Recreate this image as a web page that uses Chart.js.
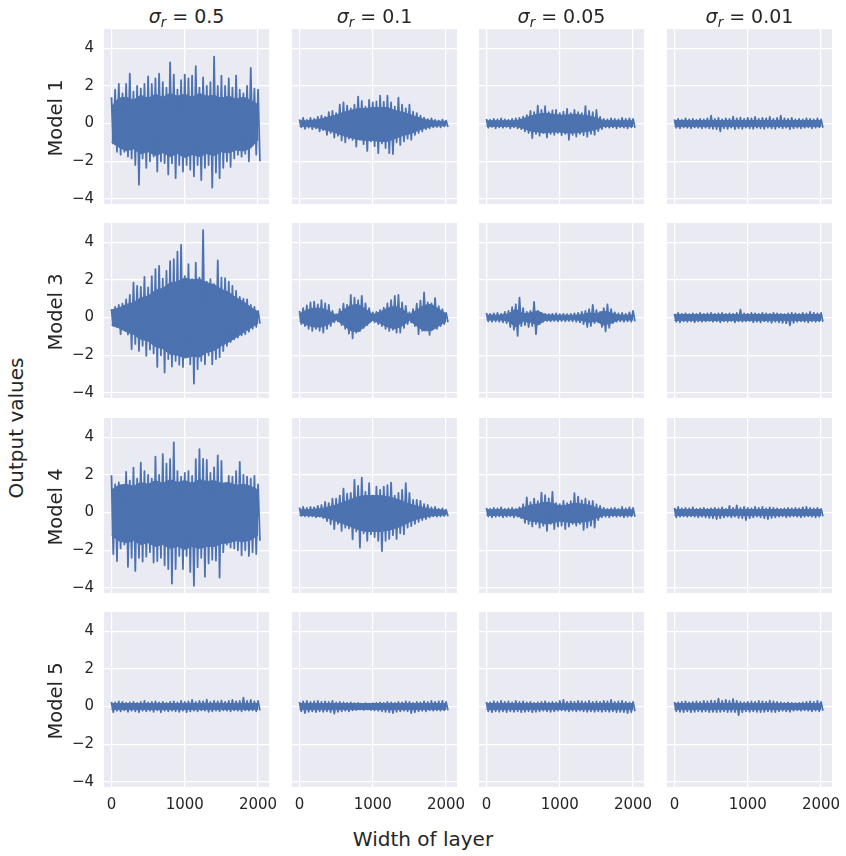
<!DOCTYPE html>
<html>
<head>
<meta charset="utf-8">
<script src="https://cdn.jsdelivr.net/npm/chart.js@4.4.1/dist/chart.umd.min.js"></script>
<style>
  html, body { margin: 0; padding: 0; background: #ffffff; }
  #fig { position: relative; width: 846px; height: 856px; overflow: hidden;
         font-family: 'DejaVu Sans', sans-serif; color: #262626; }
  #fig canvas { position: absolute; }
  .lbl { position: absolute; white-space: nowrap; line-height: 1; }
  .col-title { font-size: 19px; text-align: center; width: 165px; top: 7px; }
  .col-title i { font-style: italic; }
  .col-title .sub { font-style: italic; font-size: 70%; position: relative; top: 0.28em; }
  .vert { transform: translate(-50%, -50%) rotate(-90deg); }
</style>
</head>
<body>
<div id="fig"></div>
<script>
// sampling positions: each window of the trace contributes a peak and a trough
const peakWidths = [0, 50, 100, 150, 200, 250, 300, 350, 400, 450, 500, 550, 600, 650, 700, 750, 800, 850, 900, 950,
  1000, 1050, 1100, 1150, 1200, 1250, 1300, 1350, 1400, 1450, 1500, 1550, 1600, 1650, 1700, 1750, 1800, 1850, 1900, 1950, 2000];
const troughWidths = [25, 75, 125, 175, 225, 275, 325, 375, 425, 475, 525, 575, 625, 675, 725, 775, 825, 875, 925, 975,
  1025, 1075, 1125, 1175, 1225, 1275, 1325, 1375, 1425, 1475, 1525, 1575, 1625, 1675, 1725, 1775, 1825, 1875, 1925, 1975, 2025];
// positions of the solid inner band
const coreWidths = [0, 100, 200, 300, 400, 500, 600, 700, 800, 900, 1000, 1100, 1200, 1300, 1400, 1500, 1600, 1700, 1800, 1900, 2000];

const modelLabels = ['Model 1', 'Model 3', 'Model 4', 'Model 5'];
const sigmaLabels = ['0.5', '0.1', '0.05', '0.01'];
const xTicks = [0, 1000, 2000];
const yTicks = [-4, -2, 0, 2, 4];

// Model 1 -- spikes
const m1_s050_up = [1.4, 1.8, 2.1, 1.6, 2.1, 2.65, 1.7, 2.0, 1.85, 2.1, 2.5, 2.1, 2.4, 2.65, 2.2, 1.9, 3.25, 2.6, 1.8, 2.3, 2.6,
  2.4, 2.55, 3.05, 1.9, 2.45, 2.0, 2.2, 3.55, 2.0, 2.55, 2.0, 2.4, 1.9, 2.55, 1.8, 1.6, 2.0, 2.95, 1.85, 1.8];
const m1_s050_lo = [-1.05, -1.5, -1.65, -1.5, -1.75, -1.85, -2.2, -3.25, -1.85, -2.35, -2.0, -1.75, -2.55, -2.0, -2.1, -2.7, -2.1,
  -2.9, -2.2, -2.55, -2.2, -2.45, -2.8, -2.2, -3.0, -2.35, -2.2, -3.4, -2.6, -2.9, -2.35, -2.0, -2.3, -1.85, -1.65, -1.75, -1.6,
  -2.0, -1.15, -1.65, -2.0];
const m1_s010_up = [0.22, 0.3, 0.2, 0.3, 0.25, 0.35, 0.42, 0.35, 0.6, 0.67, 0.55, 1.0, 1.13, 0.95, 0.8, 1.0, 1.43, 1.2, 0.9, 1.25,
  1.13, 1.17, 1.48, 1.15, 1.48, 1.13, 0.9, 1.38, 1.0, 0.8, 1.0, 0.63, 0.55, 0.42, 0.32, 0.23, 0.28, 0.2, 0.16, 0.21, 0.16];
const m1_s010_lo = [-0.2, -0.28, -0.22, -0.3, -0.25, -0.42, -0.35, -0.6, -0.5, -0.75, -0.65, -0.9, -1.0, -0.8, -0.87, -1.22, -0.85,
  -1.1, -1.45, -0.95, -1.2, -1.57, -1.05, -1.3, -1.57, -1.62, -1.0, -1.13, -0.95, -0.8, -0.86, -0.6, -0.5, -0.42, -0.3, -0.25,
  -0.2, -0.18, -0.2, -0.15, -0.18];
const m1_s005_up = [0.25, 0.2, 0.25, 0.22, 0.27, 0.22, 0.2, 0.25, 0.27, 0.3, 0.37, 0.45, 0.67, 0.6, 0.95, 0.72, 0.92, 0.6, 0.7, 0.72,
  0.55, 0.63, 0.78, 0.55, 0.72, 0.6, 0.55, 0.93, 0.67, 0.6, 0.72, 0.35, 0.25, 0.22, 0.28, 0.25, 0.22, 0.3, 0.25, 0.28, 0.25];
const m1_s005_lo = [-0.22, -0.18, -0.25, -0.2, -0.22, -0.18, -0.25, -0.2, -0.25, -0.3, -0.42, -0.5, -0.78, -0.55, -0.65, -0.5, -0.74,
  -0.55, -0.6, -0.5, -0.62, -0.55, -0.86, -0.6, -0.69, -0.55, -0.62, -0.7, -0.55, -0.6, -0.4, -0.3, -0.2, -0.22, -0.2, -0.25,
  -0.2, -0.22, -0.25, -0.2, -0.22];
const m1_s001_up = [0.22, 0.25, 0.2, 0.27, 0.22, 0.25, 0.2, 0.25, 0.22, 0.28, 0.42, 0.25, 0.3, 0.22, 0.28, 0.25, 0.37, 0.28, 0.32,
  0.25, 0.3, 0.28, 0.35, 0.25, 0.3, 0.28, 0.35, 0.25, 0.3, 0.42, 0.28, 0.25, 0.3, 0.22, 0.25, 0.22, 0.28, 0.25, 0.22, 0.27, 0.22];
const m1_s001_lo = [-0.22, -0.25, -0.2, -0.22, -0.25, -0.2, -0.22, -0.25, -0.22, -0.25, -0.28, -0.3, -0.42, -0.25, -0.28, -0.22,
  -0.3, -0.25, -0.28, -0.22, -0.25, -0.28, -0.22, -0.25, -0.28, -0.22, -0.25, -0.28, -0.22, -0.25, -0.22, -0.3, -0.25, -0.22,
  -0.25, -0.22, -0.2, -0.25, -0.22, -0.2, -0.22];

// Model 3 -- spikes
const m3_s050_up = [0.45, 0.57, 0.67, 0.74, 0.97, 1.2, 1.86, 1.68, 1.63, 2.16, 1.6, 2.2, 2.57, 2.74, 2.07, 2.48, 3.0, 3.1, 3.5,
  3.86, 2.2, 2.83, 2.04, 2.92, 2.12, 4.64, 1.9, 2.04, 1.77, 3.04, 2.12, 2.09, 1.9, 1.68, 1.42, 1.1, 1.0, 0.97, 0.67, 0.57, 0.35];
const m3_s050_lo = [-0.44, -0.5, -0.88, -0.62, -0.9, -1.68, -1.4, -1.77, -1.5, -2.03, -1.7, -1.9, -2.62, -2.0, -2.92, -2.2, -2.6,
  -2.3, -2.5, -2.62, -2.1, -2.48, -3.5, -2.74, -2.3, -2.48, -2.0, -2.48, -2.2, -2.1, -1.77, -1.5, -1.3, -1.15, -1.05, -0.95,
  -0.88, -0.75, -0.6, -0.5, -0.32];
const m3_s010_up = [0.35, 0.5, 0.65, 0.8, 0.85, 0.7, 0.92, 0.75, 0.67, 0.35, 0.18, 0.45, 0.74, 0.67, 1.2, 1.06, 0.92, 1.15, 0.75,
  0.5, 0.27, 0.3, 0.4, 0.53, 0.75, 0.92, 1.15, 1.2, 0.8, 0.62, 0.27, 0.45, 0.74, 0.9, 1.33, 0.8, 0.75, 1.03, 0.6, 0.44, 0.25];
const m3_s010_lo = [-0.35, -0.45, -0.6, -0.71, -0.6, -0.7, -0.8, -0.6, -0.45, -0.25, -0.2, -0.4, -0.6, -0.85, -1.1, -0.8, -0.72,
  -0.55, -0.4, -0.18, -0.25, -0.35, -0.45, -0.6, -0.71, -0.65, -0.8, -0.8, -0.55, -0.35, -0.25, -0.45, -0.88, -0.7, -0.6, -0.92,
  -0.55, -0.6, -0.45, -0.35, -0.25];
const m3_s005_up = [0.25, 0.2, 0.22, 0.25, 0.2, 0.3, 0.35, 0.55, 0.7, 1.06, 0.5, 0.3, 0.35, 0.83, 0.35, 0.25, 0.2, 0.18, 0.2, 0.22,
  0.18, 0.2, 0.18, 0.2, 0.22, 0.25, 0.3, 0.35, 0.45, 0.67, 0.4, 0.3, 0.5, 0.7, 0.45, 0.28, 0.22, 0.25, 0.2, 0.28, 0.35];
const m3_s005_lo = [-0.2, -0.22, -0.2, -0.22, -0.25, -0.3, -0.5, -0.65, -0.97, -0.45, -0.4, -0.5, -0.45, -0.88, -0.35, -0.22,
  -0.18, -0.2, -0.18, -0.2, -0.18, -0.2, -0.18, -0.2, -0.22, -0.25, -0.35, -0.5, -0.45, -0.3, -0.25, -0.5, -0.74, -0.55, -0.3,
  -0.22, -0.2, -0.22, -0.2, -0.22, -0.2];
const m3_s001_up = [0.2, 0.25, 0.2, 0.22, 0.18, 0.22, 0.2, 0.25, 0.2, 0.22, 0.25, 0.2, 0.22, 0.25, 0.2, 0.22, 0.2, 0.25, 0.42, 0.22,
  0.2, 0.25, 0.22, 0.2, 0.25, 0.22, 0.2, 0.25, 0.22, 0.2, 0.18, 0.22, 0.25, 0.22, 0.2, 0.25, 0.22, 0.3, 0.25, 0.22, 0.25];
const m3_s001_lo = [-0.22, -0.25, -0.2, -0.22, -0.2, -0.25, -0.2, -0.22, -0.2, -0.18, -0.22, -0.2, -0.25, -0.2, -0.22, -0.18,
  -0.25, -0.2, -0.22, -0.2, -0.18, -0.25, -0.22, -0.25, -0.2, -0.22, -0.28, -0.22, -0.25, -0.28, -0.3, -0.42, -0.28, -0.22, -0.2,
  -0.22, -0.25, -0.2, -0.22, -0.2, -0.22];

// Model 4 -- spikes
const m4_s050_up = [1.98, 1.5, 1.6, 1.3, 2.16, 1.7, 2.39, 1.8, 2.65, 2.2, 2.0, 1.8, 2.97, 2.0, 3.1, 2.6, 2.83, 3.72, 2.2, 1.9, 2.1,
  2.2, 1.95, 2.83, 3.36, 2.85, 2.8, 2.1, 2.4, 3.04, 2.74, 1.06, 1.95, 1.9, 2.2, 2.69, 2.0, 1.9, 1.8, 1.95, 1.5];
const m4_s050_lo = [-2.2, -2.57, -1.9, -1.7, -2.88, -2.4, -3.1, -2.4, -2.6, -2.34, -2.1, -2.65, -2.57, -2.4, -2.8, -3.0, -3.77,
  -3.0, -2.3, -3.0, -2.3, -3.15, -3.89, -2.9, -2.4, -3.4, -2.7, -2.5, -2.55, -3.45, -2.1, -1.7, -1.85, -1.9, -2.0, -2.27, -2.0,
  -2.3, -2.1, -2.2, -1.5];
const m4_s010_up = [0.27, 0.3, 0.25, 0.3, 0.28, 0.35, 0.4, 0.57, 0.5, 0.74, 0.74, 0.9, 1.27, 1.0, 1.05, 1.73, 1.42, 1.86, 1.1, 1.56,
  0.9, 1.38, 1.2, 1.38, 1.45, 1.59, 0.9, 1.05, 1.2, 1.56, 1.05, 0.67, 0.67, 0.62, 0.45, 0.4, 0.27, 0.3, 0.2, 0.22, 0.15];
const m4_s010_lo = [-0.18, -0.2, -0.22, -0.2, -0.25, -0.22, -0.3, -0.45, -0.62, -0.88, -0.6, -0.97, -0.8, -0.85, -1.42, -1.0,
  -1.86, -1.1, -1.5, -1.15, -1.3, -1.5, -2.04, -1.5, -1.4, -1.2, -1.4, -1.1, -1.15, -0.8, -0.72, -0.6, -0.5, -0.4, -0.35, -0.25,
  -0.2, -0.22, -0.2, -0.18, -0.2];
const m4_s005_up = [0.25, 0.2, 0.25, 0.22, 0.28, 0.2, 0.22, 0.25, 0.2, 0.28, 0.44, 0.8, 0.55, 0.74, 0.6, 1.06, 0.92, 0.75, 1.1, 0.5,
  0.45, 0.62, 0.5, 0.6, 1.03, 0.85, 0.65, 0.74, 0.6, 0.62, 0.44, 0.35, 0.25, 0.2, 0.22, 0.25, 0.2, 0.3, 0.22, 0.28, 0.25];
const m4_s005_lo = [-0.2, -0.25, -0.22, -0.2, -0.25, -0.22, -0.2, -0.25, -0.22, -0.3, -0.55, -0.6, -0.74, -0.6, -0.8, -0.7, -0.97,
  -0.6, -0.88, -0.75, -0.7, -0.88, -0.75, -0.6, -0.7, -0.6, -0.92, -0.8, -0.7, -0.8, -0.4, -0.25, -0.22, -0.25, -0.2, -0.22, -0.2,
  -0.25, -0.22, -0.2, -0.22];
const m4_s001_up = [0.25, 0.3, 0.22, 0.25, 0.22, 0.28, 0.2, 0.22, 0.25, 0.2, 0.22, 0.25, 0.22, 0.28, 0.2, 0.35, 0.25, 0.38, 0.25,
  0.3, 0.25, 0.22, 0.3, 0.25, 0.3, 0.22, 0.28, 0.25, 0.22, 0.2, 0.22, 0.25, 0.22, 0.25, 0.22, 0.28, 0.3, 0.25, 0.22, 0.25, 0.2];
const m4_s001_lo = [-0.25, -0.22, -0.2, -0.22, -0.2, -0.22, -0.25, -0.22, -0.25, -0.28, -0.3, -0.35, -0.3, -0.25, -0.22, -0.25,
  -0.22, -0.28, -0.3, -0.4, -0.3, -0.25, -0.22, -0.25, -0.3, -0.35, -0.28, -0.25, -0.22, -0.2, -0.25, -0.22, -0.2, -0.22, -0.25,
  -0.22, -0.2, -0.22, -0.25, -0.22, -0.2];

// Model 5 -- spikes
const m5_s050_up = [0.25, 0.22, 0.28, 0.25, 0.2, 0.22, 0.25, 0.2, 0.25, 0.3, 0.22, 0.25, 0.28, 0.22, 0.25, 0.2, 0.25, 0.28, 0.22,
  0.3, 0.25, 0.28, 0.35, 0.25, 0.3, 0.28, 0.37, 0.25, 0.3, 0.28, 0.32, 0.25, 0.3, 0.35, 0.28, 0.3, 0.47, 0.3, 0.35, 0.28, 0.3];
const m5_s050_lo = [-0.3, -0.22, -0.25, -0.2, -0.28, -0.22, -0.25, -0.3, -0.22, -0.25, -0.22, -0.28, -0.2, -0.3, -0.22, -0.25,
  -0.22, -0.25, -0.28, -0.22, -0.3, -0.25, -0.22, -0.25, -0.2, -0.22, -0.28, -0.25, -0.22, -0.25, -0.2, -0.22, -0.25, -0.2, -0.22,
  -0.25, -0.2, -0.22, -0.2, -0.25, -0.2];
const m5_s010_up = [0.25, 0.28, 0.3, 0.25, 0.28, 0.3, 0.25, 0.28, 0.25, 0.3, 0.22, 0.25, 0.22, 0.2, 0.22, 0.18, 0.2, 0.15, 0.18,
  0.15, 0.18, 0.2, 0.22, 0.2, 0.25, 0.22, 0.2, 0.25, 0.22, 0.28, 0.25, 0.2, 0.25, 0.22, 0.28, 0.25, 0.3, 0.25, 0.28, 0.3, 0.25];
const m5_s010_lo = [-0.25, -0.35, -0.28, -0.25, -0.3, -0.25, -0.28, -0.25, -0.3, -0.38, -0.28, -0.25, -0.22, -0.25, -0.2, -0.18,
  -0.15, -0.18, -0.15, -0.18, -0.2, -0.22, -0.25, -0.28, -0.3, -0.35, -0.28, -0.25, -0.22, -0.25, -0.35, -0.3, -0.25, -0.22,
  -0.25, -0.2, -0.22, -0.2, -0.22, -0.2, -0.2];
const m5_s005_up = [0.25, 0.22, 0.28, 0.25, 0.3, 0.25, 0.28, 0.22, 0.3, 0.25, 0.28, 0.22, 0.25, 0.2, 0.22, 0.25, 0.28, 0.22, 0.25,
  0.22, 0.3, 0.35, 0.25, 0.28, 0.25, 0.3, 0.28, 0.25, 0.3, 0.25, 0.28, 0.25, 0.3, 0.28, 0.35, 0.25, 0.28, 0.3, 0.25, 0.22, 0.25];
const m5_s005_lo = [-0.25, -0.3, -0.25, -0.28, -0.25, -0.3, -0.25, -0.28, -0.25, -0.3, -0.28, -0.25, -0.3, -0.28, -0.25, -0.22,
  -0.25, -0.28, -0.25, -0.22, -0.2, -0.22, -0.25, -0.22, -0.25, -0.22, -0.25, -0.28, -0.25, -0.28, -0.25, -0.28, -0.25, -0.28,
  -0.25, -0.3, -0.28, -0.3, -0.35, -0.3, -0.25];
const m5_s001_up = [0.25, 0.22, 0.25, 0.28, 0.22, 0.25, 0.28, 0.25, 0.3, 0.28, 0.32, 0.3, 0.42, 0.3, 0.35, 0.3, 0.4, 0.3, 0.25,
  0.22, 0.25, 0.28, 0.25, 0.3, 0.28, 0.25, 0.32, 0.28, 0.25, 0.22, 0.2, 0.22, 0.2, 0.18, 0.2, 0.22, 0.25, 0.28, 0.25, 0.3, 0.25];
const m5_s001_lo = [-0.25, -0.28, -0.3, -0.25, -0.3, -0.28, -0.25, -0.28, -0.25, -0.3, -0.28, -0.3, -0.28, -0.25, -0.3, -0.28,
  -0.3, -0.45, -0.3, -0.25, -0.28, -0.25, -0.28, -0.3, -0.28, -0.25, -0.28, -0.3, -0.25, -0.22, -0.25, -0.28, -0.22, -0.2, -0.22,
  -0.2, -0.22, -0.25, -0.22, -0.25, -0.22];

// solid inner band of each trace (read at coreWidths)
const m1_s050_coreUp = [0.9, 1.35, 1.4, 1.25, 1.5, 1.35, 1.55, 1.4, 1.6, 1.45, 1.55, 1.4, 1.6, 1.45, 1.5, 1.35, 1.45, 1.3, 1.4,
  1.25, 1.0];
const m1_s050_coreLo = [-1.0, -1.25, -1.45, -1.35, -1.6, -1.5, -1.7, -1.55, -1.75, -1.6, -1.8, -1.65, -1.75, -1.6, -1.7, -1.5,
  -1.55, -1.4, -1.45, -1.3, -0.85];
const m1_s010_coreUp = [0.15, 0.15, 0.18, 0.25, 0.35, 0.45, 0.6, 0.7, 0.8, 0.8, 0.85, 0.85, 0.85, 0.7, 0.6, 0.5, 0.35, 0.22, 0.15,
  0.12, 0.12];
const m1_s010_coreLo = [-0.15, -0.15, -0.18, -0.28, -0.38, -0.5, -0.65, -0.75, -0.85, -0.9, -0.9, -0.95, -0.95, -0.8, -0.65, -0.55,
  -0.4, -0.25, -0.15, -0.12, -0.12];
const m1_s005_coreUp = [0.15, 0.15, 0.15, 0.15, 0.15, 0.25, 0.4, 0.5, 0.55, 0.5, 0.45, 0.45, 0.5, 0.45, 0.4, 0.3, 0.15, 0.15, 0.15,
  0.15, 0.15];
const m1_s005_coreLo = [-0.15, -0.15, -0.15, -0.15, -0.15, -0.25, -0.4, -0.45, -0.5, -0.45, -0.45, -0.5, -0.5, -0.45, -0.4, -0.3,
  -0.15, -0.15, -0.15, -0.15, -0.15];
const m3_s050_coreUp = [0.4, 0.5, 0.7, 0.8, 1.05, 1.15, 1.45, 1.55, 1.85, 1.9, 2.1, 2.0, 2.05, 1.85, 1.75, 1.5, 1.35, 1.05, 0.85,
  0.55, 0.3];
const m3_s050_coreLo = [-0.4, -0.55, -0.75, -0.9, -1.15, -1.25, -1.55, -1.65, -1.95, -2.0, -2.15, -2.05, -2.1, -1.85, -1.75, -1.5,
  -1.3, -1.05, -0.8, -0.55, -0.3];
const m3_s010_coreUp = [0.2, 0.4, 0.5, 0.5, 0.35, 0.12, 0.4, 0.65, 0.7, 0.45, 0.15, 0.3, 0.5, 0.6, 0.45, 0.15, 0.4, 0.65, 0.7, 0.45,
  0.2];
const m3_s010_coreLo = [-0.2, -0.4, -0.5, -0.5, -0.35, -0.12, -0.4, -0.7, -0.75, -0.45, -0.15, -0.3, -0.5, -0.6, -0.45, -0.15,
  -0.45, -0.7, -0.7, -0.45, -0.2];
const m3_s005_coreUp = [0.13, 0.13, 0.13, 0.2, 0.45, 0.2, 0.25, 0.35, 0.15, 0.13, 0.12, 0.12, 0.12, 0.15, 0.25, 0.2, 0.35, 0.25,
  0.13, 0.13, 0.13];
const m3_s005_coreLo = [-0.13, -0.13, -0.13, -0.2, -0.5, -0.2, -0.25, -0.4, -0.15, -0.13, -0.12, -0.12, -0.12, -0.15, -0.25, -0.2,
  -0.4, -0.3, -0.13, -0.13, -0.13];
const m4_s050_coreUp = [1.2, 1.45, 1.5, 1.4, 1.6, 1.5, 1.7, 1.55, 1.75, 1.6, 1.7, 1.55, 1.75, 1.65, 1.7, 1.55, 1.6, 1.45, 1.5, 1.4,
  1.2];
const m4_s050_coreLo = [-1.2, -1.5, -1.6, -1.5, -1.7, -1.6, -1.8, -1.7, -1.9, -1.8, -1.95, -1.8, -1.9, -1.8, -1.8, -1.65, -1.6,
  -1.5, -1.55, -1.45, -1.2];
const m4_s010_coreUp = [0.15, 0.15, 0.18, 0.2, 0.3, 0.4, 0.55, 0.7, 0.85, 0.9, 0.9, 0.9, 0.85, 0.75, 0.6, 0.45, 0.35, 0.25, 0.18,
  0.15, 0.12];
const m4_s010_coreLo = [-0.15, -0.15, -0.18, -0.22, -0.32, -0.45, -0.6, -0.75, -0.9, -1.0, -1.0, -1.0, -0.95, -0.85, -0.7, -0.5,
  -0.35, -0.25, -0.18, -0.15, -0.12];
const m4_s005_coreUp = [0.15, 0.15, 0.15, 0.15, 0.15, 0.25, 0.4, 0.45, 0.55, 0.5, 0.35, 0.4, 0.5, 0.45, 0.4, 0.25, 0.15, 0.15, 0.15,
  0.15, 0.15];
const m4_s005_coreLo = [-0.15, -0.15, -0.15, -0.15, -0.15, -0.3, -0.45, -0.5, -0.6, -0.55, -0.45, -0.5, -0.55, -0.5, -0.45, -0.3,
  -0.15, -0.15, -0.15, -0.15, -0.15];
// the thin, even traces share one inner band
const flat_coreUp = [0.16, 0.16, 0.16, 0.16, 0.16, 0.16, 0.16, 0.16, 0.16, 0.16, 0.16, 0.16, 0.16, 0.16, 0.16, 0.16, 0.16, 0.16,
  0.16, 0.16, 0.16];
const flat_coreLo = [-0.16, -0.16, -0.16, -0.16, -0.16, -0.16, -0.16, -0.16, -0.16, -0.16, -0.16, -0.16, -0.16, -0.16, -0.16,
  -0.16, -0.16, -0.16, -0.16, -0.16, -0.16];

const upperSeries = [
  [m1_s050_up, m1_s010_up, m1_s005_up, m1_s001_up],
  [m3_s050_up, m3_s010_up, m3_s005_up, m3_s001_up],
  [m4_s050_up, m4_s010_up, m4_s005_up, m4_s001_up],
  [m5_s050_up, m5_s010_up, m5_s005_up, m5_s001_up]
];
const lowerSeries = [
  [m1_s050_lo, m1_s010_lo, m1_s005_lo, m1_s001_lo],
  [m3_s050_lo, m3_s010_lo, m3_s005_lo, m3_s001_lo],
  [m4_s050_lo, m4_s010_lo, m4_s005_lo, m4_s001_lo],
  [m5_s050_lo, m5_s010_lo, m5_s005_lo, m5_s001_lo]
];
const coreUpper = [
  [m1_s050_coreUp, m1_s010_coreUp, m1_s005_coreUp, flat_coreUp],
  [m3_s050_coreUp, m3_s010_coreUp, m3_s005_coreUp, flat_coreUp],
  [m4_s050_coreUp, m4_s010_coreUp, m4_s005_coreUp, flat_coreUp],
  [flat_coreUp, flat_coreUp, flat_coreUp, flat_coreUp]
];
const coreLower = [
  [m1_s050_coreLo, m1_s010_coreLo, m1_s005_coreLo, flat_coreLo],
  [m3_s050_coreLo, m3_s010_coreLo, m3_s005_coreLo, flat_coreLo],
  [m4_s050_coreLo, m4_s010_coreLo, m4_s005_coreLo, flat_coreLo],
  [flat_coreLo, flat_coreLo, flat_coreLo, flat_coreLo]
];

// figure layout (px)
const colLeft = [104, 292, 479, 667];
const rowTop = [29, 223, 418, 612];
const panelW = 165;
const panelH = 175;
const yAxisW = 50;
const xAxisH = 30;
const rightRoom = 16;

const lineColor = '#4C72B0';
const fig = document.getElementById('fig');
const tickFont = { family: "'DejaVu Sans', sans-serif", size: 15 };

const panelBackground = {
    id: 'panelBackground',
    beforeDraw(chart) {
        const { ctx, chartArea: a } = chart;
        ctx.save();
        ctx.fillStyle = '#EAEAF2';
        ctx.fillRect(a.left, a.top, a.right - a.left, a.bottom - a.top);
        ctx.restore();
    }
};

function zigzag(upper, lower) {
    const pts = [];
    upper.forEach((u, i) => {
        pts.push({ x: peakWidths[i], y: u });
        pts.push({ x: troughWidths[i], y: lower[i] });
    });
    return pts;
}

function bandEdge(values) {
    return values.map((v, i) => ({ x: coreWidths[i], y: v }));
}

function fmtTick(v) {
    return v < 0 ? '\u2212' + Math.abs(v) : String(v);
}

function addLabel(html, cls, style) {
    const el = document.createElement('div');
    el.className = 'lbl ' + cls;
    el.innerHTML = html;
    Object.assign(el.style, style);
    fig.appendChild(el);
    return el;
}

function makePanel(r, c) {
    const showY = c === 0;
    const showX = r === modelLabels.length - 1;
    const canvas = document.createElement('canvas');
    const w = panelW + (showY ? yAxisW : 0) + (showX ? rightRoom : 0);
    const h = panelH + (showX ? xAxisH : 0);
    canvas.width = w;
    canvas.height = h;
    canvas.style.left = (colLeft[c] - (showY ? yAxisW : 0)) + 'px';
    canvas.style.top = rowTop[r] + 'px';
    canvas.style.width = w + 'px';
    canvas.style.height = h + 'px';
    fig.appendChild(canvas);

    new Chart(canvas, {
        type: 'line',
        data: {
            datasets: [{
                data: zigzag(upperSeries[r][c], lowerSeries[r][c]),
                borderColor: lineColor,
                borderWidth: 1.8,
                borderJoinStyle: 'round',
                pointRadius: 0,
                tension: 0,
                fill: false
            }, {
                data: bandEdge(coreUpper[r][c]),
                borderColor: lineColor,
                backgroundColor: lineColor,
                borderWidth: 1,
                pointRadius: 0,
                tension: 0,
                fill: '+1'
            }, {
                data: bandEdge(coreLower[r][c]),
                borderColor: lineColor,
                borderWidth: 1,
                pointRadius: 0,
                tension: 0,
                fill: false
            }]
        },
        options: {
            responsive: false,
            animation: false,
            events: [],
            layout: { padding: { left: 0, top: 0, bottom: 0, right: showX ? rightRoom : 0 } },
            plugins: {
                legend: { display: false },
                tooltip: { enabled: false }
            },
            scales: {
                x: {
                    type: 'linear',
                    min: -102,
                    max: 2149,
                    border: { display: false },
                    grid: { color: '#ffffff', lineWidth: 1.2, drawTicks: false },
                    ticks: { display: showX, padding: 9, color: '#262626', font: tickFont, maxRotation: 0, autoSkip: false,
                             callback: v => String(v) },
                    afterBuildTicks: s => { s.ticks = xTicks.map(v => ({ value: v })); },
                    afterFit: s => { s.height = showX ? xAxisH : 0; s.paddingLeft = 0; s.paddingRight = 0; }
                },
                y: {
                    min: -4.27,
                    max: 5.02,
                    border: { display: false },
                    grid: { color: '#ffffff', lineWidth: 1.2, drawTicks: false },
                    ticks: { display: showY, padding: 10, color: '#262626', font: tickFont, callback: fmtTick },
                    afterBuildTicks: s => { s.ticks = yTicks.map(v => ({ value: v })); },
                    afterFit: s => { s.width = showY ? yAxisW : 0; s.paddingTop = 0; s.paddingBottom = 0; }
                }
            }
        },
        plugins: [panelBackground]
    });
}

modelLabels.forEach((m, r) => sigmaLabels.forEach((s, c) => makePanel(r, c)));

// column headers
sigmaLabels.forEach((s, c) => {
    addLabel('<i>\u03c3</i><span class="sub">r</span> = ' + s, 'col-title', { left: colLeft[c] + 'px' });
});

// row labels
modelLabels.forEach((m, r) => {
    addLabel(m, 'vert', { left: '56px', top: (rowTop[r] + panelH / 2 + 1) + 'px', fontSize: '19.5px' });
});

// figure labels
addLabel('Output values', 'vert', { left: '16px', top: '428px', fontSize: '20px' });
addLabel('Width of layer', '', { left: '423px', top: '829px', fontSize: '20px', transform: 'translateX(-50%)' });
</script>
</body>
</html>
